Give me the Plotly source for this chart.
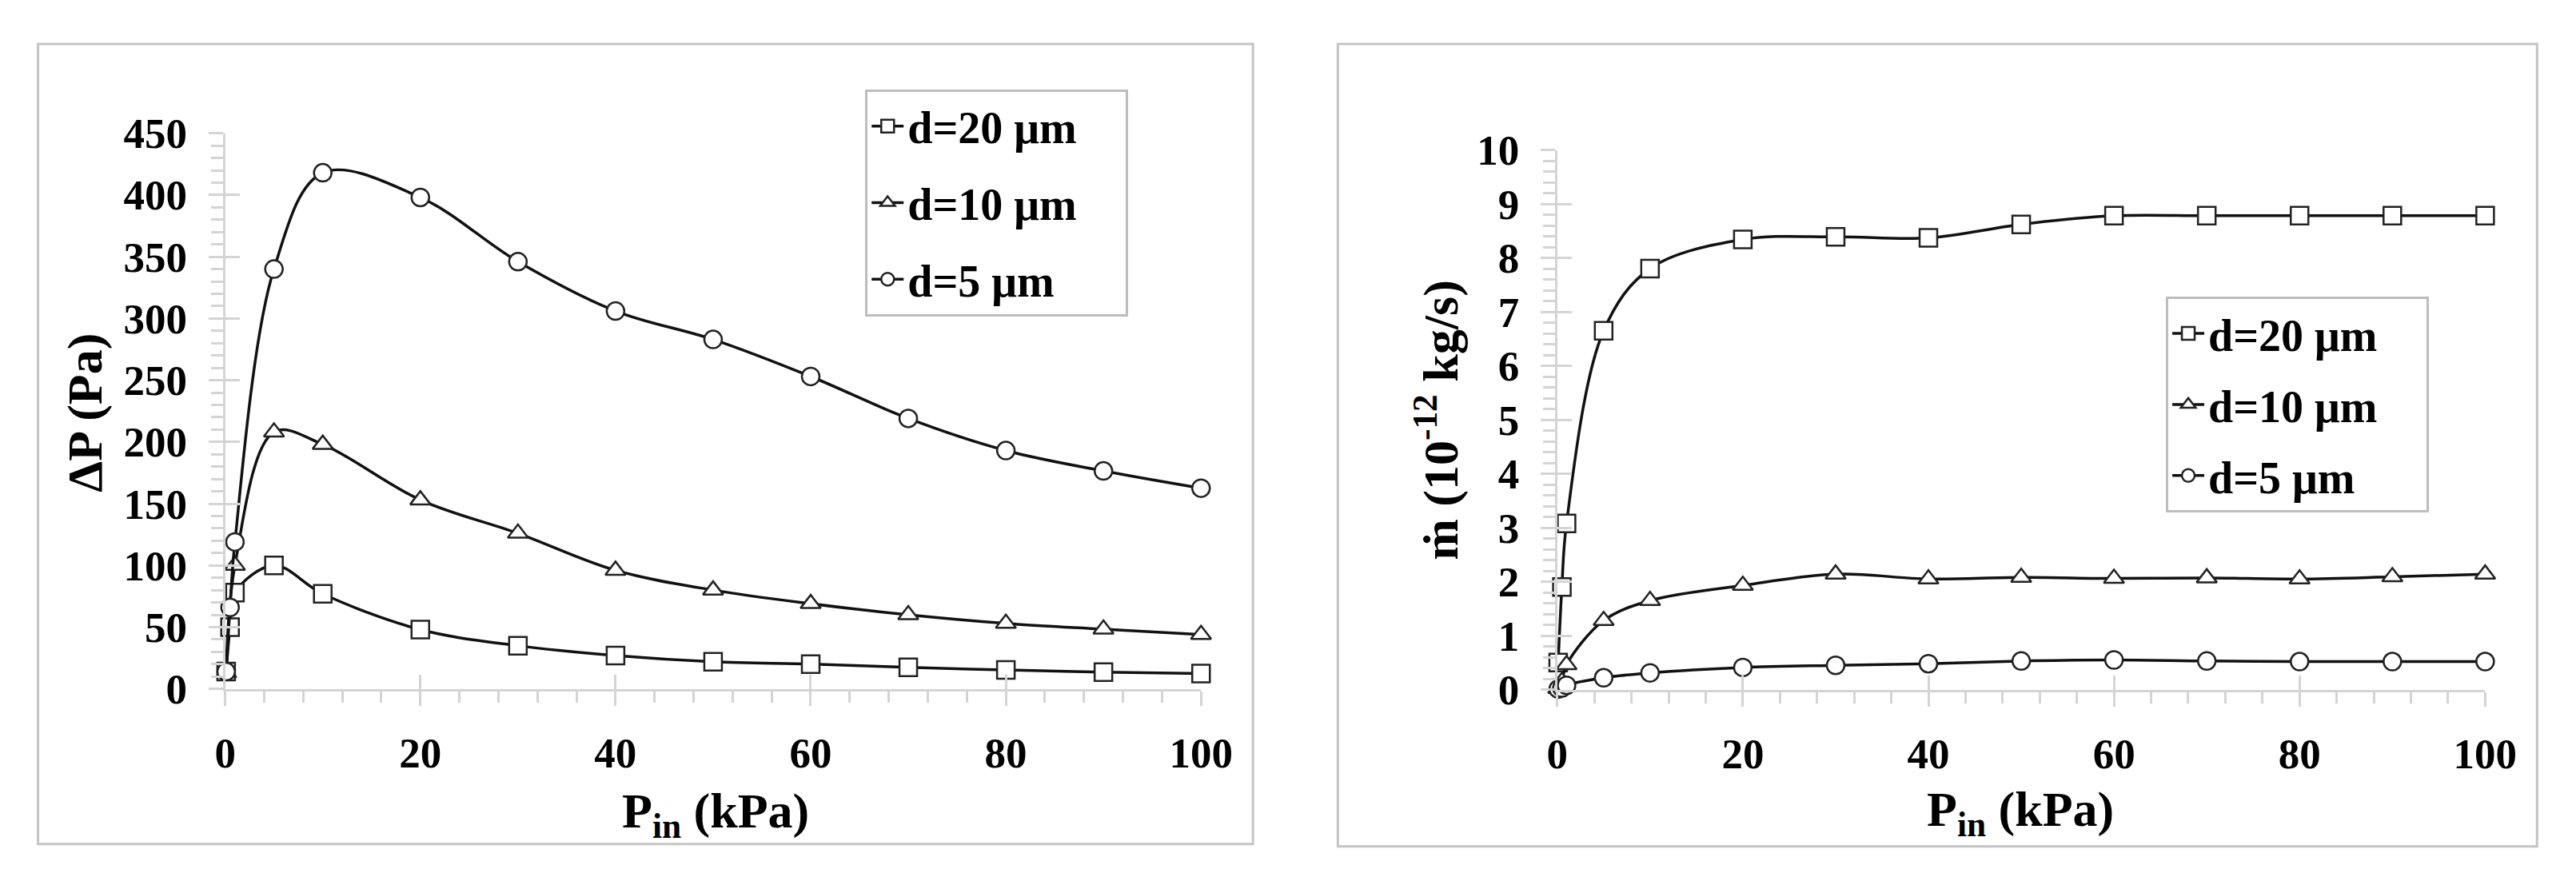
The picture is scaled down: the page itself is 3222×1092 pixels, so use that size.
import plotly.graph_objects as go

# left panel: pressure drop (Pa) vs inlet pressure (kPa)
x_dp_20 = [0.1, 0.5, 1, 5, 10, 20, 30, 40, 50, 60, 70, 80, 90, 100]
dp_20 = [14, 50, 78, 100, 77, 48, 35, 27, 22, 20, 17.5, 15.3, 13.5, 12.4]
x_dp_10 = [0.1, 1, 5, 10, 20, 30, 40, 50, 60, 70, 80, 90, 100]
dp_10 = [13, 100, 208, 198, 153, 126, 96, 80, 69, 60, 53, 48.4, 44]
x_dp_5 = [0.1, 0.5, 1, 5, 10, 20, 30, 40, 50, 60, 70, 80, 90, 100]
dp_5 = [14, 66, 119, 340, 418, 398, 346, 306, 283, 253, 219, 193, 176.5, 162.5]

# right panel: mass flow rate (1e-12 kg/s) vs inlet pressure (kPa)
x_m = [0.1, 0.5, 1, 5, 10, 20, 30, 40, 50, 60, 70, 80, 90, 100]
m_20 = [0.5, 1.9, 3.08, 6.65, 7.8, 8.34, 8.39, 8.37, 8.62, 8.78, 8.78, 8.78, 8.78, 8.78]
m_10 = [0.02, 0.15, 0.46, 1.28, 1.65, 1.93, 2.14, 2.05, 2.08, 2.06, 2.07, 2.05, 2.09, 2.14]
m_5 = [0.01, 0.03, 0.08, 0.22, 0.31, 0.41, 0.45, 0.48, 0.53, 0.55, 0.53, 0.52, 0.52, 0.52]

names = ["d=20 μm", "d=10 μm", "d=5 μm"]
symbols = ["square", "triangle-up", "circle"]

FONT = "Liberation Serif"
W, H = 3222, 1092
AX = "#d4d4d4"
PAD = "\u00a0" * 4   # keeps the legend box as wide as in the original


def px(v):
    return v / W


def py(v):
    return (H - v) / H


fig = go.Figure()

left = [(x_dp_20, dp_20), (x_dp_10, dp_10), (x_dp_5, dp_5)]
right = [(x_m, m_20), (x_m, m_10), (x_m, m_5)]

for side, series, xa, ya, lg in [("l", left, "x", "y", "legend"),
                                 ("r", right, "x2", "y2", "legend2")]:
    for i, (xs, ys) in enumerate(series):
        fig.add_trace(go.Scatter(
            x=xs, y=ys, name=names[i] + PAD, mode="lines+markers",
            line=dict(color="#111111", width=3.5, shape="spline", smoothing=1.0),
            marker=dict(symbol=symbols[i], size=22, color="white",
                        line=dict(color="#222222", width=2.5)),
            cliponaxis=False, legend=lg, legendgroup=side + str(i),
            xaxis=xa, yaxis=ya))

# empty traces so the overlay axes (inner half of the crossing ticks) get drawn
for xa, ya in [("x3", "y3"), ("x4", "y4")]:
    fig.add_trace(go.Scatter(x=[], y=[], xaxis=xa, yaxis=ya,
                             showlegend=False, hoverinfo="skip"))

tickfont = dict(family=FONT, size=53, color="black", weight="bold")


def xax(domain, anchor):
    return dict(domain=domain, anchor=anchor, range=[0, 100], dtick=20,
                showgrid=False, zeroline=False, showline=True, linecolor=AX,
                linewidth=3, ticks="outside", ticklen=18, tickwidth=3,
                tickcolor=AX, tickfont=tickfont, ticklabelstandoff=14,
                minor=dict(dtick=4, ticks="outside", ticklen=14, tickwidth=3,
                           tickcolor=AX))


def yax(domain, anchor, rng, dtick, mdtick):
    return dict(domain=domain, anchor=anchor, range=rng, dtick=dtick,
                showgrid=False, zeroline=False, showline=True, linecolor=AX,
                linewidth=3, ticks="outside", ticklen=18, tickwidth=3,
                tickcolor=AX, tickfont=tickfont, ticklabelstandoff=16,
                minor=dict(dtick=mdtick, ticks="outside", ticklen=15,
                           tickwidth=3, tickcolor=AX))


def inner(overlay, anchor, rng, dtick):
    return dict(overlaying=overlay, anchor=anchor, range=rng, dtick=dtick,
                showgrid=False, zeroline=False, showline=False,
                showticklabels=False, ticks="inside", ticklen=18,
                tickwidth=3, tickcolor=AX)


xd1 = [px(265), px(1506)]
yd1 = [py(872), py(138)]
xd2 = [px(1959), px(3139)]
yd2 = [py(873), py(160)]

title_font = dict(family=FONT, size=62, color="black", weight="bold")
legend_font = dict(family=FONT, size=56, color="black", weight="bold")


def title(text, x, y, angle=0):
    return dict(text=text, xref="paper", yref="paper", x=px(x), y=py(y),
                xanchor="center", yanchor="middle", textangle=angle,
                showarrow=False, font=title_font)


fig.update_layout(
    width=W, height=H, margin=dict(l=0, r=0, t=0, b=0),
    paper_bgcolor="white", plot_bgcolor="white",
    xaxis=xax(xd1, "y"),
    yaxis=yax(yd1, "x", [0, 450], 50, 10),
    xaxis2=xax(xd2, "y2"),
    yaxis2=yax(yd2, "x2", [0, 10], 1, 0.2),
    xaxis3=inner("x", "y", [0, 100], 20),
    yaxis3=inner("y", "x", [0, 450], 50),
    xaxis4=inner("x2", "y2", [0, 100], 20),
    yaxis4=inner("y2", "x2", [0, 10], 1),
    legend=dict(x=px(1079), y=py(80), xanchor="left", yanchor="top",
                bgcolor="white", bordercolor="#bdbdbd", borderwidth=3,
                font=legend_font, traceorder="grouped", tracegroupgap=20,
                itemwidth=40),
    legend2=dict(x=px(2733), y=py(354), xanchor="left", yanchor="top",
                 bgcolor="white", bordercolor="#bdbdbd", borderwidth=3,
                 font=legend_font, traceorder="grouped", tracegroupgap=13,
                 itemwidth=40),
    shapes=[
        dict(type="rect", xref="paper", yref="paper", x0=px(27), x1=px(1572),
             y0=py(1077), y1=py(20), line=dict(color="#c4c4c4", width=3)),
        dict(type="rect", xref="paper", yref="paper", x0=px(1680), x1=px(3205),
             y0=py(1080), y1=py(20), line=dict(color="#c4c4c4", width=3)),
    ],
    annotations=[
        title("ΔP (Pa)", 86, 507, -90),
        title("P<sub>in</sub> (kPa)", 889, 1038),
        title("ṁ (10<sup>-12</sup> kg/s)", 1806, 517, -90),
        title("P<sub>in</sub> (kPa)", 2548, 1035),
    ],
)

fig.write_html("out.html")
